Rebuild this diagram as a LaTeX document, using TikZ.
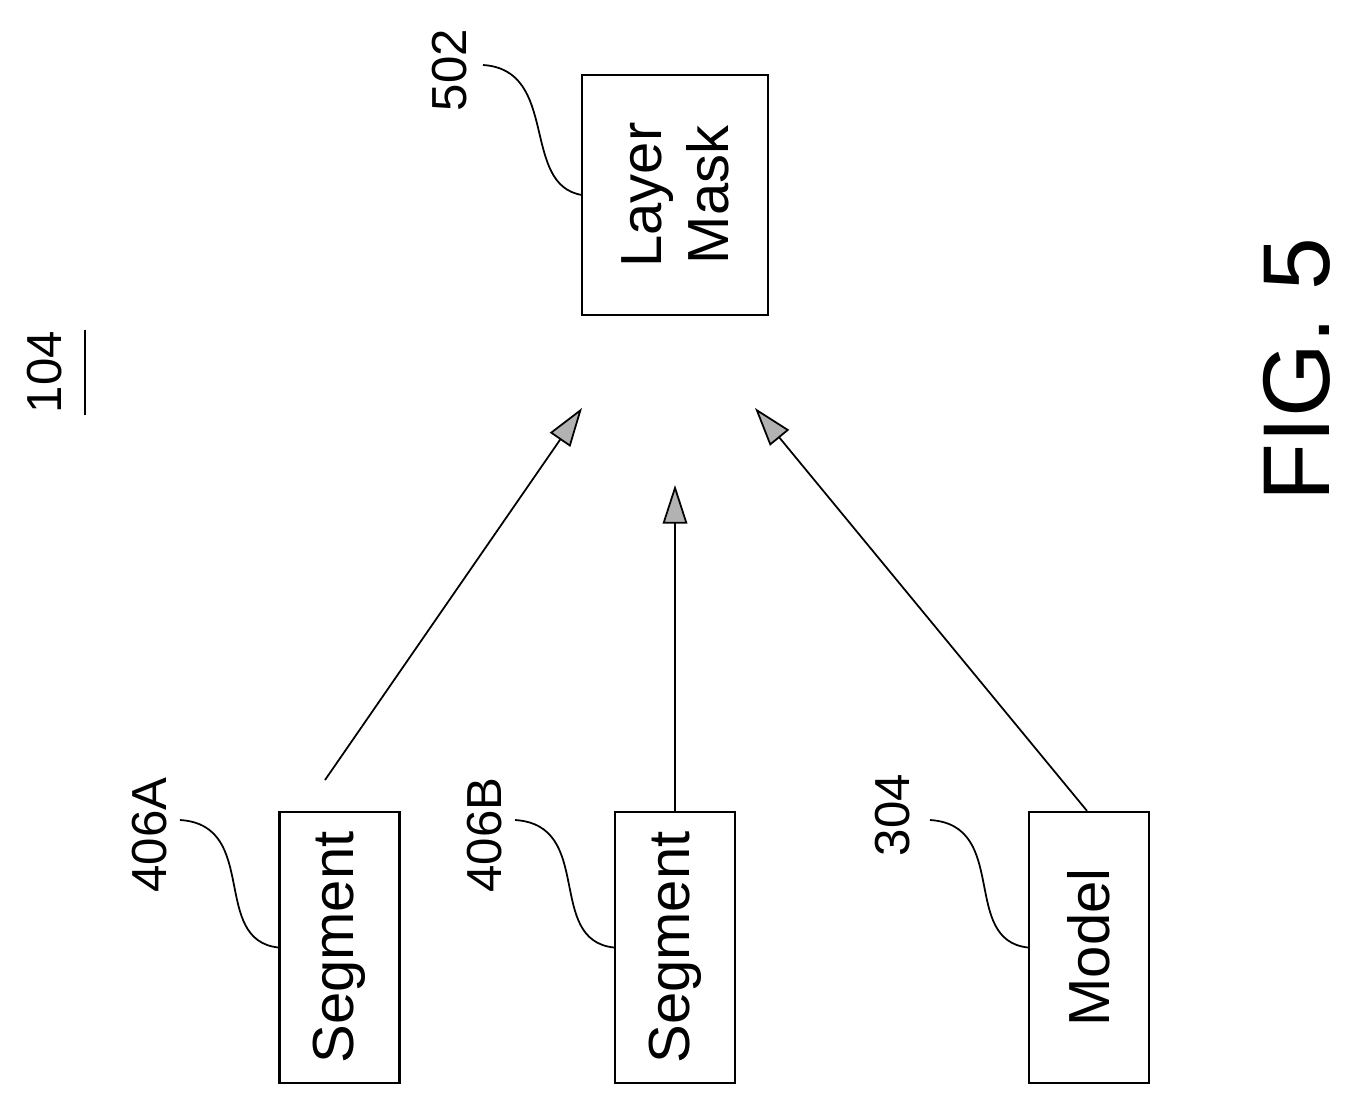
\documentclass[tikz,border=0pt]{standalone}
\usepackage{fontspec}
\setmainfont{Liberation Sans}
\usetikzlibrary{arrows.meta}
\tikzset{
  box/.style={draw, line width=1.3pt, minimum width=4.8cm, minimum height=2.4cm, font=\fontsize{33}{38}\selectfont, align=center, rotate=90},
  ref/.style={font=\fontsize{28}{32}\selectfont, rotate=90},
  flow/.style={line width=1pt, -{Triangle[length=22pt,width=14pt,fill=gray!60]}},
  lead/.style={line width=1pt}
}
\begin{document}
\begin{tikzpicture}[x=0.02cm,y=-0.02cm]
\useasboundingbox (0,0) rectangle (1351,1105);

\node[box, minimum width=4.8cm, minimum height=3.72cm] (mask) at (675,195) {Layer\\Mask};
\node[box, minimum width=5.42cm] (segA) at (339.5,947.5) {Segment};
\node[box, minimum width=5.42cm] (segB) at (675,947.5) {Segment};
\node[box, minimum width=5.42cm] (model) at (1089,947.5) {Model};

% arrow ends
\coordinate (tipA) at (582,408);
\coordinate (tipB) at (675,485);
\coordinate (tipM) at (755,408);
\coordinate (tailA) at (325,780);

\draw[flow] (tailA) -- (tipA);
\draw[flow] (segB.east) -- (tipB);
\draw[flow] (model.east -| 1087,0) -- (tipM);

% reference numerals
\node[ref] (n502) at (450,70) {502};
\node[ref] (n406a) at (150,835) {406A};
\node[ref] (n406b) at (485,835) {406B};
\node[ref] (n304) at (893,815) {304};
\draw[lead] (483,65) .. controls (560,70) and (520,185) .. (mask.north -| 582,195);
\draw[lead] (180,820) .. controls (260,825) and (210,940) .. (segA.north);
\draw[lead] (515,820) .. controls (595,825) and (545,940) .. (segB.north);
\draw[lead] (930,820) .. controls (1010,825) and (960,940) .. (model.north);

\node[ref] (n104) at (45,372) {104};
\draw[line width=1.3pt] (85,330) -- (85,415);

\node[font=\fontsize{54}{60}\selectfont, rotate=90] (fig) at (1297,370) {FIG. 5};
\end{tikzpicture}
\end{document}
